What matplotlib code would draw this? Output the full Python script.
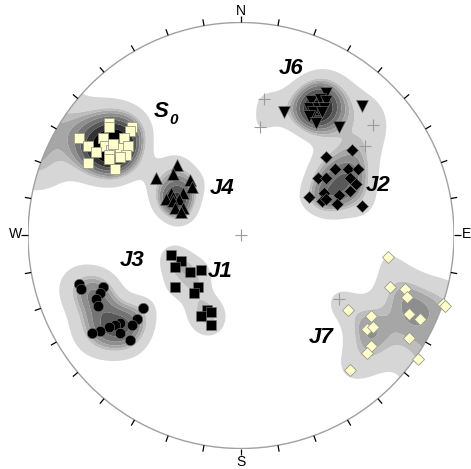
import numpy as np
import matplotlib
matplotlib.use("Agg")
import matplotlib.pyplot as plt
from matplotlib.patches import Circle

# Pole positions on the stereonet (x = east, y = north, primitive radius = 1)
S0_x = [-0.62, -0.62, -0.51, -0.52, -0.76, -0.65, -0.55, -0.72, -0.64, -0.61,
        -0.57, -0.53, -0.54, -0.68, -0.62, -0.62, -0.57, -0.72, -0.59, -0.60]
S0_y = [0.53, 0.51, 0.51, 0.49, 0.46, 0.46, 0.46, 0.42, 0.42, 0.40,
        0.41, 0.42, 0.38, 0.39, 0.38, 0.36, 0.37, 0.34, 0.31, 0.43]

J4_x = [-0.30, -0.40, -0.32, -0.24, -0.23, -0.27, -0.33, -0.32, -0.35, -0.29,
        -0.32, -0.27, -0.31, -0.28]
J4_y = [0.33, 0.27, 0.29, 0.26, 0.23, 0.20, 0.20, 0.18, 0.17, 0.17,
        0.16, 0.13, 0.13, 0.11]

J6_x = [0.40, 0.33, 0.37, 0.40, 0.32, 0.36, 0.39, 0.34, 0.38, 0.32, 0.35,
        0.20, 0.57, 0.46]
J6_y = [0.67, 0.63, 0.64, 0.63, 0.60, 0.60, 0.60, 0.58, 0.58, 0.56, 0.53,
        0.58, 0.61, 0.51]

J2_x = [0.52, 0.40, 0.44, 0.50, 0.55, 0.36, 0.40, 0.51, 0.54, 0.51, 0.46,
        0.39, 0.32, 0.38, 0.40, 0.45, 0.57]
J2_y = [0.40, 0.37, 0.31, 0.31, 0.31, 0.27, 0.27, 0.27, 0.24, 0.21, 0.19,
        0.20, 0.18, 0.16, 0.17, 0.15, 0.14]

J3_x = [-0.76, -0.75, -0.65, -0.66, -0.68, -0.67, -0.46, -0.49, -0.51, -0.57,
        -0.59, -0.62, -0.66, -0.70, -0.57, -0.52]
J3_y = [-0.23, -0.25, -0.24, -0.27, -0.30, -0.33, -0.34, -0.39, -0.42, -0.41,
        -0.42, -0.43, -0.45, -0.46, -0.46, -0.49]

J1_x = [-0.33, -0.28, -0.31, -0.24, -0.19, -0.31, -0.20, -0.22, -0.16, -0.14,
        -0.19, -0.14]
J1_y = [-0.09, -0.12, -0.15, -0.17, -0.16, -0.24, -0.24, -0.27, -0.35, -0.36,
        -0.38, -0.42]

J7_x = [0.69, 0.70, 0.77, 0.78, 0.95, 0.96, 0.50, 0.61, 0.79, 0.84, 0.59,
        0.62, 0.79, 0.61, 0.59, 0.83, 0.51]
J7_y = [-0.10, -0.24, -0.25, -0.29, -0.32, -0.33, -0.35, -0.38, -0.37, -0.39,
        -0.44, -0.43, -0.48, -0.52, -0.55, -0.58, -0.63]

# Unassigned poles
other_x = [0.11, 0.09, 0.62, 0.58, 0.46]
other_y = [0.64, 0.51, 0.52, 0.42, -0.30]

set_labels = ["J6", "J4", "J2", "J3", "J1", "J7"]
set_label_x = [0.235, -0.089, 0.643, -0.512, -0.099, 0.376]
set_label_y = [0.786, 0.223, 0.237, -0.117, -0.171, -0.481]

# Density contour levels and fills
density_levels = [1.3, 2.9, 3.4, 4.0, 4.8, 5.8, 7.0, 8.6, 1e9]
density_colors = ["#d6d6d6", "#bdbdbd", "#a6a6a6", "#8e8e8e", "#747474",
                  "#585858", "#333333", "#000000"]
kappa = 100.0


def to_vector(x, y):
    """Equal-angle (lower hemisphere) inverse projection to unit vectors."""
    x = np.asarray(x, float)
    y = np.asarray(y, float)
    r2 = x ** 2 + y ** 2
    d = 1.0 + r2
    return np.stack([2 * x / d, 2 * y / d, -(1 - r2) / d], axis=-1)


W, H = 471, 469
fig = plt.figure(figsize=(W / 100, H / 100), dpi=100)
R, cx, cy = 213.0, 241.0, 235.5
ax = fig.add_axes([(cx - R) / W, (H - cy - R) / H, 2 * R / W, 2 * R / H])
ax.set_xlim(-1, 1)
ax.set_ylim(-1, 1)
ax.set_aspect("equal")
ax.axis("off")

# Density of all poles on the sphere (axial exponential kernel)
all_x = np.concatenate([S0_x, J4_x, J6_x, J2_x, J3_x, J1_x, J7_x, other_x])
all_y = np.concatenate([S0_y, J4_y, J6_y, J2_y, J3_y, J1_y, J7_y, other_y])
pole_vec = to_vector(all_x, all_y)

n = 401
g = np.linspace(-1.0, 1.0, n)
GX, GY = np.meshgrid(g, g)
rr = np.sqrt(GX ** 2 + GY ** 2)
scale = np.where(rr > 1, 1 / np.maximum(rr, 1e-9), 1.0)
grid_vec = to_vector((GX * scale).ravel(), (GY * scale).ravel())
dots = np.abs(grid_vec @ pole_vec.T)
dens = np.exp(kappa * (dots - 1)).sum(axis=1).reshape(GX.shape)

prim = Circle((0, 0), 1.0, transform=ax.transData, facecolor="none")
cs = ax.contourf(GX, GY, dens, levels=density_levels, colors=density_colors,
                 zorder=1, antialiased=True)
cs.set_clip_path(prim)

# Primitive circle and 10-degree ticks
ax.add_patch(Circle((0, 0), 1.0, facecolor="none", edgecolor="#a0a0a0",
                    linewidth=1.0, zorder=2))
tick_len = 6.5 / R
for az in range(0, 360, 10):
    a = np.radians(az)
    ax.plot([np.sin(a), (1 + tick_len) * np.sin(a)],
            [np.cos(a), (1 + tick_len) * np.cos(a)],
            color="black", linewidth=0.9, zorder=2, clip_on=False,
            solid_capstyle="butt")

card_font = dict(family="Liberation Sans", fontsize=10, color="black",
                 ha="center", va="center")
ax.text(0, 1.056, "N", **card_font)
ax.text(0, -1.063, "S", **card_font)
ax.text(-1.061, 0.005, "W", **card_font)
ax.text(1.057, 0.005, "E", **card_font)

# Centre and unassigned poles
ax.plot([0], [0], marker="+", color="#9a9a9a", markersize=9,
        markeredgewidth=0.8, linestyle="none", zorder=3)
ax.plot(other_x, other_y, marker="+", color="#9a9a9a", markersize=9,
        markeredgewidth=0.8, linestyle="none", zorder=3)

cream = "#ffffcc"
ax.plot(S0_x, S0_y, marker="s", markersize=7.5, markerfacecolor=cream,
        markeredgecolor="#9a9a8a", markeredgewidth=0.6, linestyle="none",
        zorder=4)
ax.plot(J7_x, J7_y, marker="D", markersize=6.0, markerfacecolor=cream,
        markeredgecolor="#9a9a8a", markeredgewidth=0.6, linestyle="none",
        zorder=4)
ax.plot(J4_x, J4_y, marker="^", markersize=8.5, markerfacecolor="black",
        markeredgecolor="#777777", markeredgewidth=0.4, linestyle="none",
        zorder=4)
ax.plot(J6_x, J6_y, marker="v", markersize=8.5, markerfacecolor="black",
        markeredgecolor="#777777", markeredgewidth=0.4, linestyle="none",
        zorder=4)
ax.plot(J2_x, J2_y, marker="D", markersize=6.0, markerfacecolor="black",
        markeredgecolor="#777777", markeredgewidth=0.4, linestyle="none",
        zorder=4)
ax.plot(J3_x, J3_y, marker="o", markersize=7.5, markerfacecolor="black",
        markeredgecolor="#777777", markeredgewidth=0.4, linestyle="none",
        zorder=4)
ax.plot(J1_x, J1_y, marker="s", markersize=7.0, markerfacecolor="black",
        markeredgecolor="#777777", markeredgewidth=0.4, linestyle="none",
        zorder=4)

label_font = dict(family="Liberation Sans", fontsize=16, fontweight="bold",
                  fontstyle="italic", color="black", ha="center", va="center",
                  zorder=5)
for txt, lx, ly in zip(set_labels, set_label_x, set_label_y):
    ax.text(lx, ly, txt, **label_font)
ax.text(-0.373, 0.582, "S", **label_font)
ax.text(-0.315, 0.540, "0", **dict(label_font, fontsize=11))

fig.savefig("out.png", dpi=100)
